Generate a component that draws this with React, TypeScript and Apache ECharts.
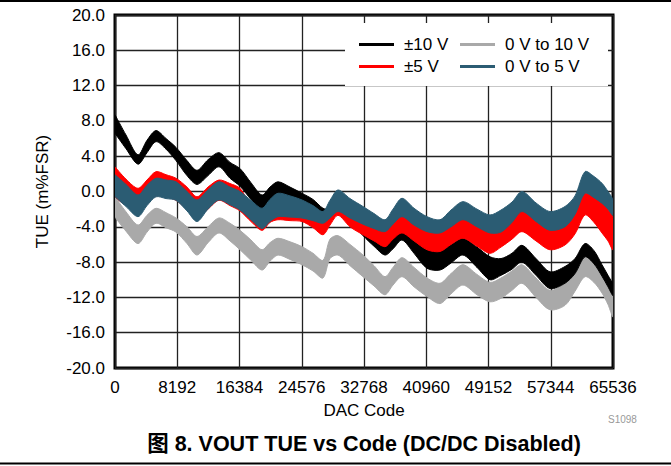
import React, { useEffect, useRef } from "react";
import * as echarts from "echarts";

const FONT = "'Liberation Sans', Arial, 'Noto Sans CJK SC', sans-serif";

const codes = [0, 1448, 3027, 4211, 5396, 6712, 8027, 9475, 10791, 12239, 13686, 15134, 16450, 17897, 19345, 20398, 21450, 23030, 24609, 26056, 27372, 28294, 29346, 30926, 32636, 34084, 35531, 36584, 37769, 39348, 41059, 42769, 44217, 45796, 47638, 49349, 50797, 52244, 53560, 55403, 57245, 59219, 60535, 61851, 63035, 64088, 64878, 65536];

const xTicks = [0, 8192, 16384, 24576, 32768, 40960, 49152, 57344, 65536];
const yTicks = [-20, -16, -12, -8, -4, 0, 4, 8, 12, 16, 20];

// ±10 V band
const bip10Upper = [8.7, 6.4, 4.15, 5.8, 6.9, 6.0, 5.0, 3.5, 2.4, 3.6, 4.4, 3.3, 2.6, 1.0, -0.4, 0.5, 1.1, 0.5, -0.2, -0.9, -1.9, -2.0, -1.8, -2.8, -3.8, -5.0, -6.0, -5.0, -4.0, -5.0, -6.1, -6.6, -6.0, -5.3, -6.3, -7.4, -7.6, -7.0, -6.1, -7.6, -9.1, -8.5, -7.6, -5.9, -6.7, -8.3, -9.5, -10.6];
const bip10Lower = [6.6, 4.85, 3.1, 4.4, 5.65, 4.8, 3.5, 1.8, 0.8, 1.8, 2.8, 1.5, 0.6, -0.9, -2.2, -1.3, -0.8, -1.1, -1.7, -2.2, -2.9, -2.6, -2.3, -3.4, -5.0, -6.2, -7.2, -6.5, -5.5, -7.0, -8.7, -8.9, -8.1, -7.2, -8.6, -10.0, -9.5, -8.8, -8.0, -9.5, -11.0, -10.4, -9.3, -7.4, -8.2, -9.6, -10.8, -11.8];

// 0 V to 10 V band
const uni10Upper = [-0.6, -2.3, -3.8, -2.7, -1.9, -2.4, -3.0, -4.0, -5.1, -4.0, -3.0, -3.6, -4.4, -5.5, -6.6, -5.8, -5.3, -5.7, -6.25, -7.0, -7.8, -5.4, -5.0, -6.0, -7.2, -8.4, -9.65, -8.6, -7.5, -8.6, -9.8, -10.4, -9.3, -8.3, -9.4, -10.3, -9.8, -9.0, -8.3, -9.8, -11.2, -10.4, -9.0, -7.2, -7.9, -8.9, -10.3, -11.7];
const uni10Lower = [-2.9, -4.5, -5.9, -4.6, -3.6, -4.1, -4.6, -5.9, -7.2, -5.8, -4.7, -5.6, -6.6, -7.8, -8.9, -7.9, -7.2, -7.7, -8.3, -9.0, -9.8, -7.6, -7.2, -8.4, -9.65, -10.7, -11.7, -10.6, -9.65, -10.8, -11.9, -12.7, -11.6, -10.6, -11.7, -12.5, -12.1, -11.2, -10.4, -12.0, -13.4, -12.9, -11.3, -9.65, -10.3, -11.5, -12.8, -14.2];

// ±5 V band
const bip5Upper = [2.8, 1.4, 0.36, 1.3, 2.25, 1.9, 1.5, 0.5, -0.6, 0.5, 1.3, 0.9, 0.36, -1.6, -2.5, -1.5, -0.8, -1.1, -1.5, -2.2, -2.9, -1.6, -0.4, -1.4, -2.3, -3.1, -3.8, -2.6, -1.4, -2.5, -3.4, -3.8, -2.7, -1.8, -2.6, -3.3, -2.7, -1.8, -0.6, -1.9, -2.9, -2.3, -1.1, -0.2, -0.6, -1.3, -2.0, -3.0];
const bip5Lower = [-0.6, -1.5, -1.0, -1.2, -0.5, -0.6, -1.0, -2.0, -3.0, -2.0, -1.0, -1.6, -2.2, -3.4, -4.4, -3.5, -3.2, -3.3, -3.4, -4.1, -4.9, -3.8, -2.7, -4.0, -4.9, -5.6, -6.25, -5.4, -4.7, -5.6, -6.6, -6.8, -6.0, -5.3, -6.2, -7.0, -6.3, -5.4, -4.55, -5.6, -6.6, -6.06, -4.8, -2.66, -3.5, -4.7, -5.6, -6.6];

// 0 V to 5 V band
const uni5Upper = [1.9, 0.8, -0.4, 0.7, 1.5, 1.3, 1.1, 0.0, -0.96, 0.2, 1.1, 0.5, 0.0, -1.0, -1.9, -0.9, -0.2, -0.5, -0.96, -1.6, -2.27, -1.0, 0.17, -0.8, -1.7, -2.5, -3.2, -2.0, -0.77, -1.9, -2.85, -3.2, -2.1, -1.15, -2.0, -2.66, -2.1, -1.2, 0.0, -1.3, -2.27, -1.7, -0.5, 2.25, 1.7, 0.93, 0.0, -1.0];
const uni5Lower = [-0.6, -1.7, -2.85, -1.6, -0.6, -0.8, -1.0, -2.2, -3.4, -2.0, -0.96, -1.5, -2.1, -3.2, -4.2, -3.4, -2.85, -2.9, -3.0, -3.3, -3.6, -3.0, -2.27, -3.0, -3.7, -4.2, -4.55, -3.7, -2.85, -3.8, -4.55, -4.7, -4.0, -3.2, -4.0, -4.7, -4.6, -3.5, -2.27, -3.4, -4.4, -4.0, -2.6, -0.2, -0.7, -1.34, -2.0, -2.7];

const seriesNames = ["±10 V", "0 V to 10 V", "±5 V", "0 V to 5 V"];
const seriesColors = ["#000000", "#a9a9a9", "#ff0000", "#2b5c73"];

function bandSeries(name: string, color: string, lower: number[], upper: number[]) {
  const data = codes.map((c, i) => [c, lower[i], upper[i]]);
  return {
    name,
    type: "custom",
    silent: true,
    clip: true,
    itemStyle: { color },
    encode: { x: 0, y: [1, 2] },
    data,
    renderItem: (params: any, api: any) => {
      if (params.dataIndex !== 0) return null;
      const top: number[][] = [];
      const bottom: number[][] = [];
      for (let i = 0; i < data.length; i++) top.push(api.coord([data[i][0], data[i][2]]));
      for (let i = data.length - 1; i >= 0; i--) bottom.push(api.coord([data[i][0], data[i][1]]));
      return {
        type: "group",
        children: [
          {
            type: "polyline",
            shape: { points: top.concat(bottom), smooth: 0.3 },
            style: { fill: color, stroke: color, lineWidth: 1 },
          },
        ],
      };
    },
  };
}

export default function App() {
  const ref = useRef<HTMLDivElement>(null);
  useEffect(() => {
    if (!ref.current) return;
    const chart = echarts.init(ref.current, undefined, { renderer: "svg" });
    const textStyle = { fontFamily: FONT, fontSize: 17, color: "#000" };
    const legendCommon = {
      orient: "vertical",
      top: 31,
      itemWidth: 35,
      itemHeight: 3,
      itemGap: 5,
      icon: "rect",
      textStyle: { ...textStyle, lineHeight: 17, padding: [0, 0, 0, 5] },
      selectedMode: false,
    };
    const option: any = {
      animation: false,
      backgroundColor: "#fff",
      textStyle: { fontFamily: FONT },
      grid: {
        left: 115,
        right: 58,
        top: 15,
        bottom: 98,
        show: true,
        borderColor: "#000",
        borderWidth: 3,
        backgroundColor: "transparent",
      },
      xAxis: {
        type: "value",
        min: xTicks[0],
        max: xTicks[xTicks.length - 1],
        interval: 8192,
        axisLine: { show: false },
        axisTick: { show: false },
        splitLine: { show: true, lineStyle: { color: "#222", width: 1.3 } },
        axisLabel: { ...textStyle, margin: 11, showMinLabel: true, showMaxLabel: true, formatter: (v: number) => String(v) },
        name: "DAC Code",
        nameLocation: "middle",
        nameGap: 34,
        nameTextStyle: textStyle,
      },
      yAxis: {
        type: "value",
        min: yTicks[0],
        max: yTicks[yTicks.length - 1],
        interval: 4,
        axisLine: { show: false },
        axisTick: { show: false },
        splitLine: { show: true, lineStyle: { color: "#222", width: 1.3 } },
        axisLabel: { ...textStyle, margin: 10, formatter: (v: number) => v.toFixed(1) },
        name: "TUE (m%FSR)",
        nameLocation: "middle",
        nameGap: 64,
        nameTextStyle: textStyle,
      },
      legend: [
        {
          ...legendCommon,
          left: 354,
          data: [
            { name: seriesNames[0], itemStyle: { color: seriesColors[0] } },
            { name: seriesNames[2], itemStyle: { color: seriesColors[2] } },
          ],
        },
        {
          ...legendCommon,
          left: 455,
          data: [
            { name: seriesNames[1], itemStyle: { color: seriesColors[1] } },
            { name: seriesNames[3], itemStyle: { color: seriesColors[3] } },
          ],
        },
      ],
      graphic: [
        { type: "rect", z: 3, shape: { x: 345, y: 23, width: 263, height: 63 }, style: { fill: "#fff" } },
        { type: "line", z: 10, shape: { x1: 0, y1: 1, x2: 671, y2: 1 }, style: { stroke: "#000", lineWidth: 2 } },
        { type: "line", z: 10, shape: { x1: 0, y1: 463.5, x2: 671, y2: 463.5 }, style: { stroke: "#000", lineWidth: 2 } },
        {
          type: "text",
          z: 10,
          x: 364,
          y: 444,
          style: {
            text: "图 8. VOUT TUE vs Code (DC/DC Disabled)",
            fontFamily: FONT,
            fontSize: 21.5,
            fontWeight: "bold",
            fill: "#000",
            textAlign: "center",
            textVerticalAlign: "middle",
          },
        },
        {
          type: "text",
          z: 10,
          x: 608,
          y: 419,
          style: {
            text: "S1098",
            fontFamily: FONT,
            fontSize: 10,
            fill: "#999",
            textAlign: "left",
            textVerticalAlign: "middle",
          },
        },
      ],
      series: [
        bandSeries(seriesNames[1], seriesColors[1], uni10Lower, uni10Upper),
        bandSeries(seriesNames[0], seriesColors[0], bip10Lower, bip10Upper),
        bandSeries(seriesNames[2], seriesColors[2], bip5Lower, bip5Upper),
        bandSeries(seriesNames[3], seriesColors[3], uni5Lower, uni5Upper),
      ],
    };
    chart.setOption(option);
    return () => chart.dispose();
  }, []);
  return <div ref={ref} style={{ position: "absolute", left: 0, top: 0, width: 671, height: 466 }} />;
}
